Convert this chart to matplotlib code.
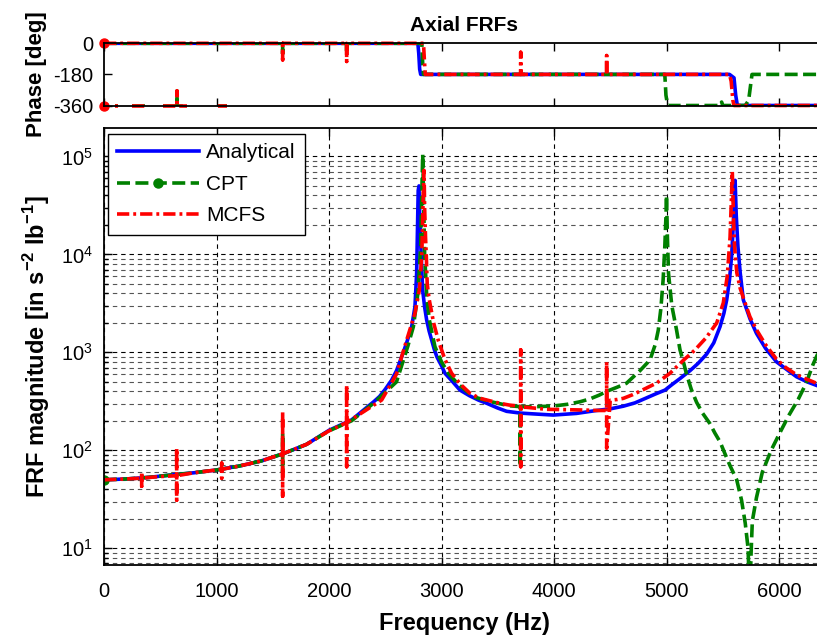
import numpy as np
import matplotlib
matplotlib.use('Agg')
import matplotlib.pyplot as plt
from matplotlib.ticker import LogLocator, NullFormatter

nan = np.nan

# magnitude curves (Hz, in s^-2 lb^-1)
freq_an = [0, 200, 400, 600, 800, 1000, 1200, 1400, 1600, 1800, 2000, 2200, 2400, 2450,
           2500, 2557, 2600, 2646, 2690, 2735, 2764, 2779, 2793, 2800, 2806, 2814, 2832,
           2850, 2868, 2890, 2913, 2935, 2959, 3000, 3031, 3100, 3164, 3250, 3330, 3402,
           3500, 3579, 3700, 3800, 3994, 4200, 4378, 4500, 4616, 4720, 4815, 4900, 4987,
           5050, 5120, 5209, 5280, 5357, 5420, 5476, 5510, 5535, 5560, 5580, 5598, 5610,
           5620, 5635, 5655, 5683, 5742, 5800, 5880, 5978, 6060, 6156, 6250, 6400]
mag_an = [50, 51, 53, 56, 59, 63, 69, 78, 93, 115, 160, 204, 315, 355,
          420, 521, 650, 900, 1250, 1830, 2920, 6400, 45000, 50000, 25000, 14000, 4380,
          2900, 2140, 1650, 1330, 1080, 900, 730, 611, 500, 412, 360, 325, 302,
          270, 250, 240, 236, 229, 238, 255, 265, 282, 305, 340, 375, 412,
          470, 540, 650, 770, 960, 1250, 1830, 2500, 3430, 5500, 10000, 25000, 57000,
          25000, 12000, 6500, 3430, 2200, 1560, 1100, 800, 680, 563, 500, 430]

freq_cpt = [0, 200, 400, 600, 800, 1000, 1200, 1400, 1588, 1588, 1588, 1588, 1800, 2000,
            2200, 2400, 2500, 2600, 2700, 2750, 2790, 2815, 2828, 2833, 2840, 2850, 2870,
            2892, 2942, 3000, 3061, 3150, 3283, 3431, 3600, 3700, 3700, 3700, 3800, 3994,
            4120, 4231, 4320, 4400, 4468, 4560, 4644, 4764, 4853, 4900, 4927, 4950, 4970,
            4985, 4996, 5000, 5008, 5018, 5047, 5089, 5120, 5150, 5178, 5220, 5267, 5320,
            5385, 5430, 5476, 5520, 5564, 5624, 5667, 5700, 5725, 5740, 5752, 5763, 5800,
            5852, 5930, 6009, 6090, 6170, 6240, 6302, 6340, 6400]
mag_cpt = [50, 51, 53, 56, 59, 63, 69, 78, 92, 150, 60, 92, 115, 158,
           200, 305, 390, 500, 1150, 1830, 4000, 12000, 60000, 105000, 40000, 10000, 3500,
           2140, 1140, 800, 611, 470, 352, 315, 285, 279, 68, 279, 278, 283,
           295, 313, 335, 365, 400, 440, 483, 650, 835, 1200, 1690, 2800, 5500,
           12000, 26000, 40000, 15000, 6400, 3000, 1700, 1060, 800, 600, 420, 310, 240,
           188, 150, 122, 92, 70, 50, 31, 18, 10, 3, 9, 19, 33,
           60, 100, 152, 230, 330, 480, 750, 940, 1300]

freq_mc = [0, 200, 335, 335, 335, 335, 500, 646, 646, 646, 646, 800, 1046, 1046, 1046, 1046,
           1200, 1400, 1588, 1588, 1588, 1588, 1800, 2000, 2157, 2157, 2157, 2157, 2468,
           2600, 2690, 2764, 2804, 2825, 2838, 2845, 2850, 2858, 2866, 2873, 2890, 2930,
           2971, 3030, 3090, 3170, 3253, 3340, 3431, 3530, 3600, 3680, 3704, 3704, 3704,
           3704, 3750, 3850, 3933, 4100, 4250, 4400, 4468, 4468, 4468, 4500, 4560, 4616,
           4700, 4800, 4912, 5030, 5150, 5250, 5350, 5446, 5505, 5540, 5565, 5585, 5595,
           5605, 5625, 5655, 5683, 5742, 5800, 5880, 5978, 6060, 6156, 6250, 6400]
mag_mc = [50, 51, 52, 60, 43, 52, 54, 55, 105, 31, 55, 59, 64, 74, 52, 64,
          69, 78, 92, 247, 34, 92, 115, 158, 192, 464, 68, 192, 326,
          600, 1330, 2500, 4380, 10000, 40000, 72000, 30000, 15000, 9000, 5000, 3500, 2000,
          1330, 850, 611, 470, 382, 340, 320, 300, 290, 283, 280, 1060, 68,
          275, 275, 268, 262, 260, 258, 255, 255, 800, 105, 325, 330, 339,
          370, 420, 486, 610, 830, 1050, 1400, 1990, 3200, 6000, 15000, 70000, 25000,
          12000, 6500, 4500, 3600, 2300, 1700, 1200, 850, 700, 590, 530, 450]

# phase curves (deg)
freq_ph_an = [0, 2790, 2798, 2806, 2815, 5560, 5600, 5615, 5630, 6400]
ph_an = [0, 0, -60, -150, -180, -180, -200, -300, -360, -360]

freq_ph_cpt = [0, 1588, 1588, 1588, 2157, 2157, 2157, 2825, 2833, 2840, 4985, 4995, 5010,
               5476, 5490, 5500, 5700, 5730, 5760, 6400]
ph_cpt = [0, 0, -60, 0, 0, -60, 0, 0, -120, -180, -180, -300, -360,
          -360, -340, -360, -360, -330, -180, -180]

freq_ph_mc = [0, 1588, 1588, 1588, 2157, 2157, 2157, 2840, 2848, 2856, 3704, 3704, 3704,
              4468, 4468, 4468, 5560, 5575, 5590, 5600, 6400]
ph_mc = [0, 0, -96, 0, 0, -105, 0, 0, -100, -180, -180, -52, -180,
         -180, -71, -180, -180, -220, -330, -360, -360]

# low-frequency points that wrapped to -360
freq_wrap = [0, nan, 98, 124, nan, 249, 391, nan, 524, 649, 649, 649, 738, nan, 1013, 1093]
ph_wrap = [-360, nan, -360, -360, nan, -360, -360, nan, -360, -360, -278, -360, -360, nan,
           -360, -360]

plt.rcParams['font.family'] = ['Liberation Sans', 'DejaVu Sans']
plt.rcParams['mathtext.fontset'] = 'custom'
plt.rcParams['mathtext.rm'] = 'Liberation Sans'
plt.rcParams['mathtext.bf'] = 'Liberation Sans:bold'
plt.rcParams['axes.unicode_minus'] = False

W, H = 817, 637
fig = plt.figure(figsize=(W / 100, H / 100), dpi=100)
x0, x1 = 104, 824
ax_ph = fig.add_axes([x0 / W, 1 - 105.5 / H, (x1 - x0) / W, (105.5 - 43.3) / H])
ax = fig.add_axes([x0 / W, 1 - 565 / H, (x1 - x0) / W, (565 - 128) / H])

blue = '#0000ff'
green = '#008000'
red = '#ff0000'
lw = 2.6
dash_g = (3.6, 1.5)
dash_r = (3.4, 1.1, 0.8, 1.1)

# phase
ax_ph.plot(freq_ph_an, ph_an, color=blue, lw=lw)
ax_ph.plot(freq_ph_cpt, ph_cpt, color=green, lw=lw, dashes=dash_g)
ax_ph.plot(freq_wrap, ph_wrap, color=green, lw=lw, dashes=dash_g)
ax_ph.plot(freq_ph_mc, ph_mc, color=red, lw=lw, dashes=dash_r, marker='o', ms=6.5,
           markevery=[0], clip_on=False)
ax_ph.plot(freq_wrap, ph_wrap, color=red, lw=lw, dashes=dash_r, marker='o', ms=6.5,
           markevery=[0], clip_on=False)
ax_ph.set_xlim(0, 6400)
ax_ph.set_ylim(-360, 0)
ax_ph.set_yticks([-360, -180, 0])
ax_ph.set_yticklabels(['-360', '-180', '0'])
ax_ph.set_xticks(range(0, 7000, 1000))
ax_ph.tick_params(axis='x', labelbottom=False, top=True, direction='in', length=6, width=1)
ax_ph.tick_params(axis='y', direction='in', length=6, width=1, labelsize=14.5, pad=8)
ax_ph.set_ylabel('Phase [deg]', fontsize=16, fontweight='bold', labelpad=4)
ax_ph.set_title('Axial FRFs', fontsize=15, fontweight='bold', pad=9)
for s in ax_ph.spines.values():
    s.set_linewidth(1.3)

# magnitude
ax.plot(freq_an, mag_an, color=blue, lw=lw, label='Analytical')
ax.plot(freq_cpt, mag_cpt, color=green, lw=lw, dashes=dash_g, marker='o', ms=6.5,
        markevery=[0], label='CPT')
ax.plot(freq_mc, mag_mc, color=red, lw=lw, dashes=dash_r, label='MCFS')
ax.set_yscale('log')
ax.set_xlim(0, 6400)
ax.set_ylim(6.75, 1.95e5)
ax.set_xticks(range(0, 7000, 1000))
ax.yaxis.set_major_locator(LogLocator(base=10, numticks=10))
ax.yaxis.set_minor_locator(LogLocator(base=10, subs=np.arange(2, 10), numticks=20))
ax.yaxis.set_minor_formatter(NullFormatter())
ax.grid(True, which='major', axis='both', color='black', lw=0.8, ls=(0, (4, 3.5)))
ax.grid(True, which='minor', axis='y', color='#555555', lw=0.8, ls=(0, (4, 3.5)))
ax.tick_params(which='both', direction='in', top=True, width=1)
ax.tick_params(which='major', length=6, labelsize=14.5)
ax.tick_params(axis='x', pad=12)
ax.tick_params(axis='y', pad=8)
ax.tick_params(which='minor', length=3)
ax.set_xlabel('Frequency (Hz)', fontsize=17, fontweight='bold', labelpad=8)
ax.set_ylabel(r'FRF magnitude [in s$^{\mathbf{-2}}$ lb$^{\mathbf{-1}}$]',
              fontsize=17, fontweight='bold', labelpad=6)
for s in ax.spines.values():
    s.set_linewidth(1.3)

leg = ax.legend(loc='upper left', bbox_to_anchor=(0.0056, 0.986), borderaxespad=0,
                fontsize=15, handlelength=3.9, handletextpad=0.35, labelspacing=0.6,
                borderpad=0.45, fancybox=False, framealpha=1, edgecolor='black')
leg.get_frame().set_linewidth(1.0)

fig.savefig('out.png', dpi=100)
